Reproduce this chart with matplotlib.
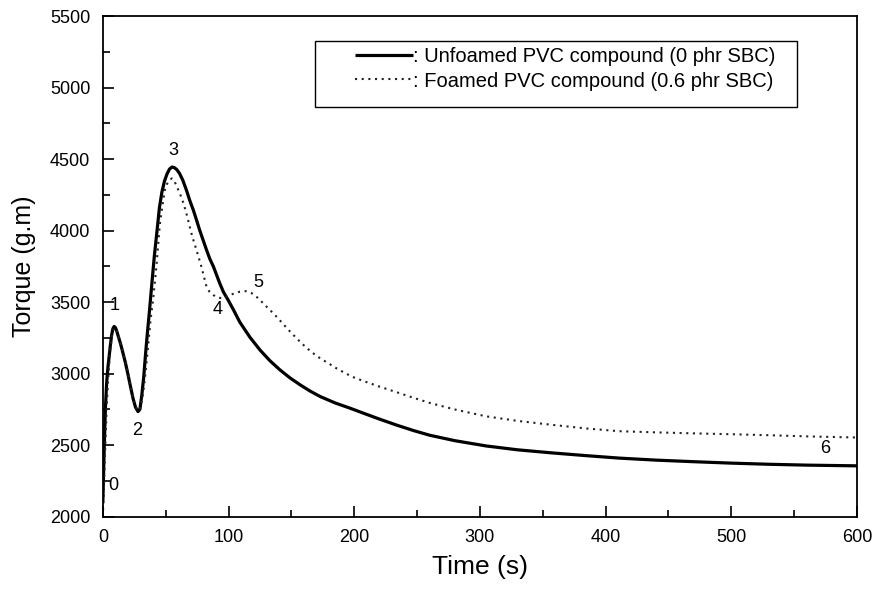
import matplotlib
matplotlib.use("Agg")
import matplotlib.pyplot as plt
from matplotlib.ticker import MultipleLocator
from matplotlib.patches import Rectangle

plt.rcParams['font.family'] = ['Liberation Sans', 'DejaVu Sans']

# Unfoamed PVC compound (0 phr SBC)
t_unfoamed = [0, 1, 2, 3, 4, 5, 6, 7, 8, 9, 10, 11, 12, 14, 16, 18, 20, 22, 24, 26,
              28, 29.5, 31, 32.5, 34, 35.5, 37, 39, 41, 43, 45, 47, 49, 51, 53, 55,
              57, 59, 61, 63.5, 66.5, 69, 72, 74.5, 77, 80, 82.5, 85, 88, 90.5, 93,
              96, 100, 104, 109, 117, 125, 133, 141, 149, 157, 165, 173, 185, 197,
              207, 220, 234, 247, 260, 280, 305, 330, 358, 385, 411, 440, 470, 500,
              530, 560, 600]
torque_unfoamed = [2100, 2450, 2750, 2935, 3040, 3120, 3200, 3270, 3315, 3330, 3322,
                   3300, 3270, 3212, 3145, 3075, 2995, 2910, 2828, 2765,
                   2735, 2752, 2850, 2975, 3140, 3290, 3430, 3630, 3825, 3990, 4160,
                   4270, 4345, 4395, 4430, 4445, 4440, 4425, 4400, 4355, 4283, 4215,
                   4143, 4075, 4004, 3928, 3865, 3805, 3748, 3690, 3632, 3570, 3510,
                   3445, 3360, 3255, 3166, 3090, 3026, 2970, 2922, 2878, 2840, 2795,
                   2758, 2725, 2683, 2640, 2603, 2570, 2532, 2495, 2468, 2446, 2427,
                   2410, 2396, 2385, 2375, 2367, 2361, 2356]

# Foamed PVC compound (0.6 phr SBC)
t_foamed = [0, 1, 2, 3, 4, 5, 6, 7, 8, 9, 10, 11, 12, 14, 16, 18, 20, 22, 24, 26,
            28, 30, 32, 34, 36, 38, 40, 42.6, 45.4, 47.5, 49.3, 51, 53, 55, 57, 59,
            61.3, 64, 66.5, 68.5, 70.5, 72.5, 74.5, 76.5, 78.4, 80.5, 82.5, 85, 87.8,
            91, 94.4, 98, 101, 105, 109, 114, 118, 122, 125, 131, 137, 143, 149, 155,
            161, 167, 173, 180, 186, 192, 198, 207, 220, 234, 247, 260, 280, 305,
            330, 358, 385, 411, 440, 470, 500, 530, 560, 600]
torque_foamed = [2000, 2250, 2500, 2750, 2930, 3060, 3170, 3250, 3300, 3322, 3320,
                 3302, 3275, 3215, 3148, 3078, 3003, 2915, 2830, 2768,
                 2738, 2765, 2860, 3010, 3190, 3380, 3520, 3748, 4050, 4180, 4283,
                 4325, 4355, 4365, 4345, 4305, 4260, 4195, 4120, 4050, 3980, 3920,
                 3865, 3805, 3748, 3675, 3608, 3570, 3550, 3535, 3527, 3538, 3550,
                 3562, 3573, 3577, 3565, 3540, 3515, 3462, 3410, 3352, 3294, 3240,
                 3189, 3145, 3107, 3070, 3037, 3008, 2980, 2950, 2910, 2870, 2832,
                 2796, 2750, 2702, 2670, 2642, 2617, 2598, 2590, 2583, 2577, 2570,
                 2562, 2554]

point_labels = ["0", "1", "2", "3", "4", "5", "6"]
label_t = [8, 9, 27, 56, 91, 124, 575]
label_torque = [2220, 3480, 2600, 4560, 3450, 3640, 2480]

fig = plt.figure(figsize=(8.79, 5.94), dpi=100)
ax = fig.add_axes([0.117, 0.130, 0.858, 0.843])

ax.plot(t_unfoamed, torque_unfoamed, color='black', lw=2.3, solid_capstyle='butt',
        label=': Unfoamed PVC compound (0 phr SBC)')
ax.plot(t_foamed, torque_foamed, color='#222222', lw=1.5, linestyle=(0, (1, 2.2)),
        label=': Foamed PVC compound (0.6 phr SBC)')

for s, x, y in zip(point_labels, label_t, label_torque):
    ax.text(x, y, s, fontsize=13, ha='center', va='center')

ax.set_xlim(0, 600)
ax.set_ylim(2000, 5500)
ax.xaxis.set_major_locator(MultipleLocator(100))
ax.xaxis.set_minor_locator(MultipleLocator(50))
ax.yaxis.set_major_locator(MultipleLocator(500))
ax.yaxis.set_minor_locator(MultipleLocator(250))
ax.tick_params(which='both', direction='in', top=False, right=False,
               labelsize=13, width=1.2, pad=9)
ax.tick_params(which='major', length=8)
ax.tick_params(which='minor', length=5)
for sp in ax.spines.values():
    sp.set_linewidth(1.3)

ax.set_xlabel('Time (s)', fontsize=19, labelpad=6)
ax.set_ylabel('Torque (g.m)', fontsize=18, labelpad=10)

# legend frame drawn as a box, entries placed inside
ax.add_patch(Rectangle((0.281, 0.818), 0.639, 0.132, transform=ax.transAxes,
                       fill=True, facecolor='white', edgecolor='black', lw=1.0,
                       zorder=4))
leg = ax.legend(loc='upper left', bbox_to_anchor=(0.330, 0.944), fontsize=14.5,
                frameon=False, handlelength=2.9, handletextpad=0.0,
                borderaxespad=0, borderpad=0.15, labelspacing=0.27)
leg.set_zorder(5)

fig.savefig('out.png', dpi=100)
